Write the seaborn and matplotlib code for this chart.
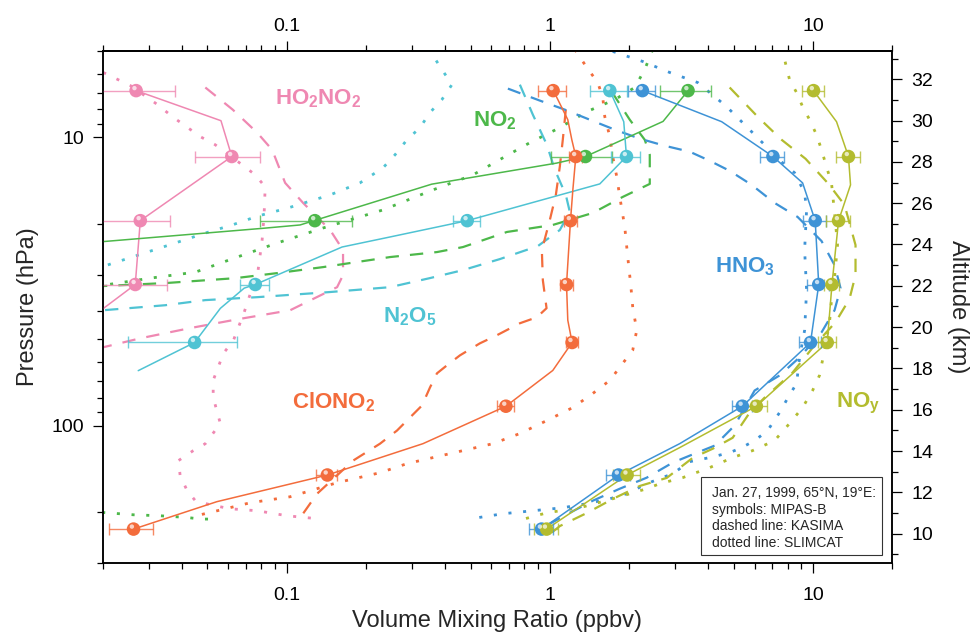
import matplotlib as mpl
import matplotlib.pyplot as plt
import matplotlib.transforms as mtransforms
import numpy as np
import seaborn as sns
from matplotlib.patches import Rectangle
from matplotlib.ticker import FixedFormatter, FixedLocator, LogLocator, MultipleLocator, NullFormatter

# MIPAS-B retrieval levels (hPa)
mipas_p = [6.88, 11.65, 19.45, 32.4, 51.5, 85.7, 148.5, 228.8]

# ---------------- HO2NO2
ho2no2_pts = [0.0268, 0.0619, 0.0278, 0.0266]
ho2no2_err = [0.011, 0.017, 0.0084, 0.0085]
ho2no2_fit_x = [0.0268, 0.0563, 0.0619, 0.0278, 0.0266, 0.0188]
ho2no2_fit_p = [6.88, 8.75, 11.65, 19.45, 32.4, 41.1]
ho2no2_kas_x = [0.0491, 0.0624, 0.0773, 0.0881, 0.0987, 0.1155, 0.1463, 0.1638, 0.1638, 0.1555,
                0.1031, 0.0649, 0.0430, 0.0278, 0.0196]
ho2no2_kas_p = [6.71, 8.01, 9.63, 11.04, 14.38, 16.88, 20.96, 24.6, 30.06, 33.1,
                39.8, 42.8, 45.9, 49.8, 53.8]
ho2no2_slm_x = [0.0201, 0.0255, 0.0323, 0.0368, 0.0470, 0.0535, 0.0678, 0.0760, 0.0829, 0.0821,
                0.0807, 0.0779, 0.0690, 0.0628, 0.0575, 0.0526, 0.0526, 0.0560, 0.0491, 0.0442,
                0.0388, 0.0394, 0.0419, 0.0450, 0.0512, 0.0610, 0.0773, 0.1005, 0.1317]
ho2no2_slm_p = [5.95, 6.61, 7.69, 8.47, 9.94, 10.6, 12.45, 13.49, 14.85, 18.58,
                22.72, 28.9, 40.4, 50.6, 56.2, 69.7, 79.9, 98.4, 115.6, 122.2,
                132.4, 149.3, 168.4, 182.4, 188.3, 194.5, 197.6, 205.7, 210.7]

# ---------------- NO2
no2_pts = [3.35, 1.366, 0.128]
no2_err = [0.74, 0.355, 0.049]
no2_fit_x = [3.35, 2.692, 1.366, 1.06, 0.3557, 0.1125, 0.0816, 0.02, 0.018]
no2_fit_p = [6.88, 8.80, 11.65, 12.28, 14.53, 20.13, 20.67, 23.0, 23.3]
no2_kas_x = [1.719, 2.012, 2.294, 2.397, 2.397, 1.892, 1.456, 1.026, 0.687, 0.4676,
             0.3725, 0.247, 0.1376, 0.092, 0.0638, 0.0352, 0.0201, 0.0188]
no2_kas_p = [6.94, 8.68, 10.19, 11.49, 14.5, 16.09, 18.29, 20.13, 21.29, 24.02,
             25.0, 26.02, 28.19, 29.58, 30.8, 32.0, 32.8, 32.9]
no2_slm_x = [2.46, 2.294, 2.102, 1.765, 1.382, 1.091, 0.8396, 0.6633, 0.5104, 0.3597,
             0.2324, 0.1376, 0.092, 0.0649, 0.045, 0.0303, 0.0201, 0.0188, 0.005, 0.0188,
             0.0201, 0.0262, 0.0331, 0.0419, 0.047, 0.0535]
no2_slm_p = [4.95, 5.81, 6.71, 7.39, 8.14, 9.25, 10.43, 11.77, 13.49, 15.21,
             17.85, 20.62, 23.26, 26.02, 29.35, 30.8, 32.6, 32.8, 100, 199.2,
             200.4, 204.1, 205.7, 208.5, 211.2, 211.2]

# ---------------- N2O5
n2o5_pts = [1.69, 1.955, 0.4854, 0.076, 0.0447]
n2o5_err = [0.27, 0.245, 0.058, 0.0095, 0.0198]
n2o5_fit_x = [1.69, 1.909, 1.955, 1.548, 0.4854, 0.247, 0.1624, 0.076, 0.069, 0.056, 0.0447, 0.0273]
n2o5_fit_p = [6.88, 8.82, 11.65, 14.5, 19.45, 22.16, 24.01, 32.4, 33.35, 39.2, 51.5, 64.5]
n2o5_kas_x = [0.7694, 0.862, 0.974, 1.045, 1.15, 1.191, 1.091, 0.9005, 0.646, 0.4676,
              0.3504, 0.247, 0.1437, 0.0773, 0.0491, 0.0346, 0.025, 0.0201, 0.0188]
n2o5_kas_p = [6.56, 8.34, 10.6, 12.96, 15.83, 18.14, 20.96, 23.83, 26.44, 28.88,
              30.78, 33.1, 34.45, 35.85, 36.7, 38.23, 39.16, 39.8, 40.0]
n2o5_slm_x = [0.345, 0.389, 0.4246, 0.389, 0.3504, 0.3211, 0.2866, 0.2581, 0.2324, 0.19,
              0.1463, 0.1013, 0.0779, 0.0621, 0.0491, 0.0377, 0.0296, 0.0208, 0.0188]
n2o5_slm_p = [4.9, 5.81, 6.56, 7.39, 8.2, 9.25, 10.19, 11.49, 12.75, 14.38,
              15.83, 17.57, 18.74, 20.13, 21.47, 23.26, 25.0, 27.75, 28.42]

# ---------------- ClONO2
clono2_pts = [1.029, 1.255, 1.198, 1.157, 1.215, 0.681, 0.1428, 0.0262]
clono2_err = [0.125, 0.07, 0.07, 0.064, 0.065, 0.053, 0.013, 0.005]
clono2_fit_x = [1.029, 1.063, 1.17, 1.212, 1.255, 1.223, 1.198, 1.157, 1.17, 1.215,
                1.026, 0.681, 0.3296, 0.1428, 0.0543, 0.0262]
clono2_fit_p = [6.88, 7.27, 8.68, 10.19, 11.65, 15.21, 19.45, 32.4, 43.1, 51.5,
                64.4, 85.7, 115.6, 148.5, 183.8, 228.8]
clono2_kas_x = [1.15, 1.12, 1.091, 1.054, 1.0, 0.9325, 0.9406, 0.9716, 0.8928, 0.7694,
                0.6292, 0.5424, 0.4554, 0.4064, 0.3725, 0.3504, 0.3268, 0.2942, 0.2626, 0.2264,
                0.1788, 0.1305, 0.1125]
clono2_kas_p = [8.01, 10.19, 12.65, 15.83, 19.34, 24.6, 31.29, 39.16, 42.09, 44.16,
                48.6, 51.84, 57.08, 61.83, 65.9, 73.8, 85.2, 93.8, 104.1, 115.6,
                132.4, 172.5, 209.1]
clono2_slm_x = [1.244, 1.382, 1.521, 1.589, 1.617, 1.69, 1.734, 1.796, 1.844, 1.926,
                1.977, 2.03, 2.065, 2.139, 2.065, 1.892, 1.69, 1.456, 1.223, 0.974,
                0.7694, 0.6077, 0.4676, 0.3597, 0.2866, 0.2264, 0.1555, 0.1031, 0.0727, 0.0545,
                0.047]
clono2_slm_p = [4.95, 5.72, 6.45, 7.27, 8.47, 9.94, 11.67, 13.7, 16.09, 20.46,
                26.02, 32.57, 38.85, 46.7, 54.8, 60.85, 69.7, 77.4, 86.6, 96.1,
                106.6, 115.6, 122.2, 129.2, 135.6, 145.8, 157.9, 176.7, 185.4, 197.6,
                204.1]

# ---------------- HNO3
hno3_pts = [2.247, 7.04, 10.19, 10.51, 9.78, 5.385, 1.823, 0.930]
hno3_err = [0.26, 0.74, 1.03, 1.0, 0.9, 0.47, 0.19, 0.1]
hno3_fit_x = [2.247, 4.496, 7.04, 9.125, 10.19, 10.51, 9.78, 5.385, 3.114, 1.823, 0.930]
hno3_fit_p = [6.88, 8.82, 11.65, 14.38, 19.45, 32.4, 51.5, 85.7, 115.6, 148.5, 228.8]
hno3_kas_x = [0.6928, 0.916, 1.14, 1.418, 1.765, 2.196, 2.732, 3.4, 4.047, 4.822,
              5.843, 7.143, 8.735, 10.77, 12.07, 12.72, 12.07, 10.77, 8.889, 7.463,
              5.998, 5.036, 4.229, 3.4, 2.93, 2.334, 1.844, 1.456, 1.191, 0.9826]
hno3_kas_p = [6.77, 7.45, 8.01, 8.68, 9.4, 10.1, 10.69, 11.21, 12.05, 13.06,
              14.61, 16.88, 18.88, 22.89, 27.75, 33.37, 39.8, 47.5, 58.0, 67.0,
              75.6, 100.0, 117.4, 127.2, 134.5, 151.7, 165.7, 182.4, 200.9, 221.1]
hno3_slm_x = [1.734, 2.254, 2.853, 3.646, 4.697, 5.893, 6.66, 7.66, 8.51, 9.29,
              9.45, 9.29, 9.45, 9.29, 8.889, 8.66, 8.0, 7.463, 6.72, 6.0,
              5.355, 4.822, 4.047, 3.4, 2.93, 2.334, 1.96, 1.69, 1.382, 1.12,
              0.862, 0.6633, 0.5284]
hno3_slm_p = [5.03, 5.45, 5.95, 6.45, 7.82, 9.63, 10.78, 12.25, 13.27, 15.58,
              17.85, 24.6, 33.9, 46.7, 58.0, 71.4, 80.5, 90.1, 104.1, 112.8,
              119.3, 124.2, 129.2, 133.5, 146.9, 159.2, 172.5, 179.6, 186.8, 192.9,
              197.6, 202.4, 209.1]

# ---------------- NOy
noy_pts = [10.04, 13.63, 12.5, 11.8, 11.32, 6.09, 1.966, 0.972]
noy_err = [1.0, 1.4, 1.3, 0.8, 0.9, 0.6, 0.23, 0.1]
noy_fit_x = [10.04, 12.28, 13.63, 13.88, 12.5, 11.8, 11.32, 6.09, 3.114, 1.966, 0.972]
noy_fit_p = [6.88, 8.82, 11.65, 14.61, 19.45, 32.4, 51.5, 85.7, 119.3, 148.5, 228.8]
noy_kas_x = [4.822, 6.21, 7.596, 9.365, 11.45, 13.17, 14.5, 14.5, 13.75, 12.17,
             10.13, 8.36, 6.546, 5.741, 4.95, 4.156, 3.489, 2.78, 2.196, 1.734,
             1.382, 1.091, 1.0]
noy_kas_p = [6.71, 8.54, 10.19, 11.86, 14.5, 17.15, 23.63, 30.06, 36.4, 43.8,
             52.7, 65.5, 80.0, 90.3, 110.3, 120.4, 129.5, 152.0, 162.1, 179.8,
             201.2, 223.4, 238.2]
noy_slm_x = [7.596, 8.14, 8.66, 9.125, 9.7, 10.31, 10.77, 11.25, 11.75, 12.07,
             12.39, 12.07, 11.75, 11.55, 11.15, 10.58, 9.96, 9.125, 8.14, 7.143,
             5.893, 4.95, 4.047, 3.196, 2.616, 2.334, 1.734, 1.3, 0.974, 0.804]
noy_slm_p = [4.87, 6.3, 6.99, 7.82, 8.68, 9.79, 11.04, 12.65, 14.38, 18.29,
             23.63, 30.54, 36.7, 43.8, 52.7, 67.0, 75.6, 86.6, 98.4, 112.8,
             122.2, 129.2, 140.0, 151.7, 159.2, 165.7, 179.6, 192.9, 200.9, 210.7]

# species label text and its (x, p) anchor (left, baseline)
label_text = [r"$\mathrm{HO_2NO_2}$", r"$\mathrm{NO_2}$", r"$\mathrm{N_2O_5}$",
              r"$\mathrm{ClONO_2}$", r"$\mathrm{HNO_3}$", r"$\mathrm{NO_y}$"]
label_x = [0.0904, 0.512, 0.2324, 0.1046, 4.23, 12.25]
label_p = [7.69, 9.16, 43.7, 87.5, 29.3, 86.4]

info_lines = ["Jan. 27, 1999, 65\u00b0N, 19\u00b0E:", "symbols: MIPAS-B",
              "dashed line: KASIMA", "dotted line: SLIMCAT"]

xtick_vals = [0.1, 1, 10]
xtick_text = ["0.1", "1", "10"]
ptick_vals = [10, 100]
ptick_text = ["10", "100"]
alt_ticks = list(range(10, 33, 2))

colors = {
    "ho2no2": "#EF88B2",
    "no2": "#4DB84A",
    "n2o5": "#4FC3D3",
    "clono2": "#F36C3C",
    "hno3": "#3E93D6",
    "noy": "#B3BC2F",
}

sns.set_style("ticks")
mpl.rcParams.update({
    "font.family": ["Liberation Sans", "DejaVu Sans"],
    "axes.edgecolor": "black",
    "axes.linewidth": 1.1,
    "xtick.color": "black",
    "ytick.color": "black",
    "xtick.major.size": 7.5,
    "ytick.major.size": 7.5,
    "xtick.minor.size": 4,
    "ytick.minor.size": 4,
    "xtick.major.width": 0.9,
    "ytick.major.width": 0.9,
    "xtick.minor.width": 0.9,
    "ytick.minor.width": 0.9,
    "mathtext.fontset": "custom",
    "mathtext.rm": "Liberation Sans:bold",
    "mathtext.it": "Liberation Sans:bold",
    "mathtext.bf": "Liberation Sans:bold",
    "mathtext.default": "rm",
})

fig = plt.figure(figsize=(9.74, 6.36), dpi=100)
ax = fig.add_axes([0.1054, 0.1148, 0.8107, 0.8055])
ax.set_xscale("log")
ax.set_yscale("log")
ax.set_xlim(0.02, 20)
ax.set_ylim(300, 5)

species = [
    ("ho2no2", ho2no2_pts, ho2no2_err, ho2no2_fit_x, ho2no2_fit_p, ho2no2_kas_x, ho2no2_kas_p, ho2no2_slm_x, ho2no2_slm_p),
    ("no2", no2_pts, no2_err, no2_fit_x, no2_fit_p, no2_kas_x, no2_kas_p, no2_slm_x, no2_slm_p),
    ("n2o5", n2o5_pts, n2o5_err, n2o5_fit_x, n2o5_fit_p, n2o5_kas_x, n2o5_kas_p, n2o5_slm_x, n2o5_slm_p),
    ("clono2", clono2_pts, clono2_err, clono2_fit_x, clono2_fit_p, clono2_kas_x, clono2_kas_p, clono2_slm_x, clono2_slm_p),
    ("hno3", hno3_pts, hno3_err, hno3_fit_x, hno3_fit_p, hno3_kas_x, hno3_kas_p, hno3_slm_x, hno3_slm_p),
    ("noy", noy_pts, noy_err, noy_fit_x, noy_fit_p, noy_kas_x, noy_kas_p, noy_slm_x, noy_slm_p),
]

# offset for the glossy highlight on the sphere markers
shine = ax.transData + mtransforms.ScaledTranslation(-1.2 / 72, 1.8 / 72, fig.dpi_scale_trans)

for key, pts, err, fx, fp, kx, kp, sx, sp in species:
    c = colors[key]
    # SLIMCAT (dotted)
    sns.lineplot(x=sx, y=sp, sort=False, estimator=None, color=c, lw=2.0,
                 linestyle=(0, (1.1, 4.2)), ax=ax, legend=False, zorder=2)
    # KASIMA (dashed)
    sns.lineplot(x=kx, y=kp, sort=False, estimator=None, color=c, lw=1.6,
                 linestyle=(0, (6, 5)), ax=ax, legend=False, zorder=2)
    # MIPAS-B profile
    sns.lineplot(x=fx, y=fp, sort=False, estimator=None, color=c, lw=1.1,
                 ax=ax, legend=False, zorder=3)
    lev = mipas_p[:len(pts)]
    ax.errorbar(pts, lev, xerr=err, fmt="none", ecolor=c, elinewidth=1.0,
                capsize=4.5, capthick=1.0, alpha=0.8, zorder=4)
    sns.scatterplot(x=pts, y=lev, color=c, s=95, edgecolor="none", ax=ax,
                    legend=False, zorder=5)
    ax.scatter(pts, lev, s=10, color="white", alpha=0.7, edgecolor="none",
               transform=shine, zorder=6)

for t, lx, lp, key in zip(label_text, label_x, label_p, colors):
    ax.text(lx, lp, t, color=colors[key], fontsize=16, ha="left", va="baseline", zorder=7)

# info box
ax.add_patch(Rectangle((0.7573, 0.0156), 0.23, 0.1529, transform=ax.transAxes,
                       fc="white", ec="#333333", lw=0.8, zorder=8))
for i, line in enumerate(info_lines):
    ax.text(0.7712, 0.1372 - i * 0.0329, line, transform=ax.transAxes, fontsize=10,
            ha="left", va="center", zorder=9)

# bottom / left axes
ax.xaxis.set_major_locator(FixedLocator(xtick_vals))
ax.xaxis.set_major_formatter(FixedFormatter(xtick_text))
ax.xaxis.set_minor_locator(LogLocator(base=10, subs=np.arange(2, 10) * 1.0, numticks=20))
ax.xaxis.set_minor_formatter(NullFormatter())
ax.yaxis.set_major_locator(FixedLocator(ptick_vals))
ax.yaxis.set_major_formatter(FixedFormatter(ptick_text))
ax.yaxis.set_minor_locator(LogLocator(base=10, subs=np.arange(2, 10) * 1.0, numticks=20))
ax.yaxis.set_minor_formatter(NullFormatter())
ax.tick_params(axis="x", which="both", direction="out", top=False, labeltop=False,
               bottom=True, labelbottom=True, labelsize=14, pad=10)
ax.tick_params(axis="y", which="both", direction="out", left=True, right=False,
               labelsize=14, pad=6)

ax.set_xlabel("Volume Mixing Ratio (ppbv)", fontsize=17)
ax.set_ylabel("Pressure (hPa)", fontsize=17)
ax.xaxis.set_label_coords(0.5, -0.092)
ax.yaxis.set_label_coords(-0.080, 0.5)

# top axis (same scale)
axt = ax.secondary_xaxis("top")
axt.xaxis.set_major_locator(FixedLocator(xtick_vals))
axt.xaxis.set_major_formatter(FixedFormatter(xtick_text))
axt.xaxis.set_minor_locator(LogLocator(base=10, subs=np.arange(2, 10) * 1.0, numticks=20))
axt.xaxis.set_minor_formatter(NullFormatter())
axt.tick_params(axis="x", which="both", direction="out", labelsize=14, pad=4)
axt.spines["top"].set_linewidth(1.1)


def alt_of(p):
    return 43.13 - 13.947 * np.log10(p)


# right altitude axis
ax2 = ax.twinx()
ax2.set_ylim(alt_of(300), alt_of(5))
ax2.set_yticks(alt_ticks)
ax2.yaxis.set_minor_locator(MultipleLocator(1))
ax2.tick_params(axis="y", which="both", direction="out", labelsize=14, pad=6)
ax2.set_ylabel("Altitude (km)", fontsize=17, rotation=270, va="bottom")
ax2.yaxis.set_label_coords(1.069, 0.5)
for s in ax2.spines.values():
    s.set_linewidth(1.1)

fig.savefig("out.png", dpi=100)
